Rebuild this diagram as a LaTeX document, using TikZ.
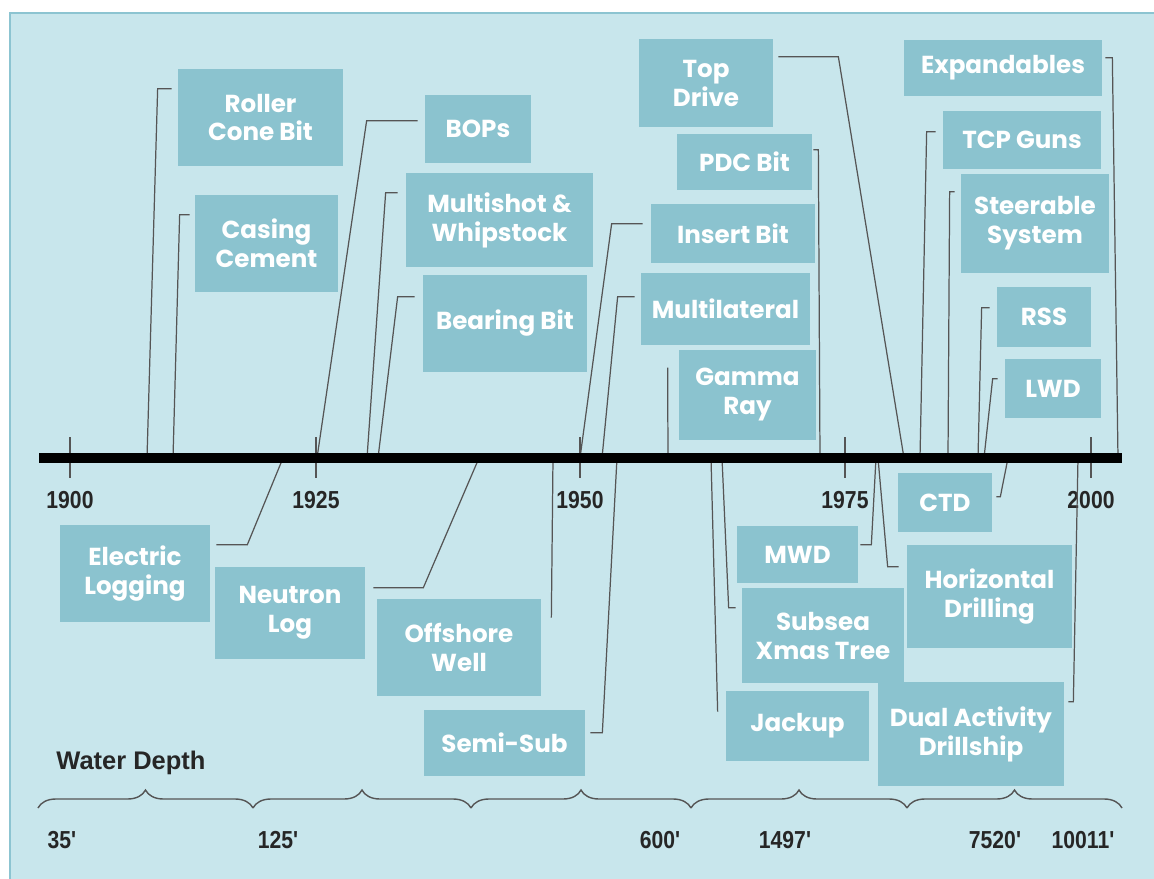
\documentclass[tikz,border=0pt]{standalone}
\usepackage{fontspec}
\setmainfont{Liberation Sans}
\newfontfamily\boxfont{Poppins}
\newfontfamily\narrowfont{Liberation Sans}[FakeStretch=0.86]
\usetikzlibrary{calc,decorations.pathreplacing}

\definecolor{bgblue}{HTML}{C8E6EC}
\definecolor{boxblue}{HTML}{8BC3CF}
\definecolor{edgeblue}{HTML}{8CC4D1}
\definecolor{linegray}{HTML}{555555}

\begin{document}
\begin{tikzpicture}[x=0.02cm, y=-0.02cm,
    evt/.style={fill=boxblue, text=white, inner sep=0pt, align=center,
        font=\boxfont\bfseries\fontsize{14}{16.5}\selectfont},
    sz/.style 2 args={minimum width=#1*0.02cm, minimum height=#2*0.02cm},
    link/.style={draw=linegray, line width=0.7pt},
    yr/.style={font=\narrowfont\bfseries\fontsize{14}{16}\selectfont, text=black!85},
    brc/.style={draw=linegray, line width=0.8pt, decorate,
        decoration={brace, amplitude=0.36cm}}]
    \useasboundingbox (0,0) rectangle (1154,879);

    % Draw the background panel
    \fill[white] (0,0) rectangle (1154,879);
    \fill[bgblue] (10,13) rectangle (1154,879);
    \draw[edgeblue, line width=1.5pt] (10,879) -- (10,13) -- (1154,13);

    % Year ticks and labels
    \foreach \yr/\x in {1900/70, 1925/316, 1950/580, 1975/845, 2000/1091} {
        \draw[linegray, line width=0.6pt] (\x,437) -- (\x,478);
        \node[yr] (y\yr) at (\x,500) {\yr};
    }

    % Events above the time line
    \node[evt, sz={165}{97}] (roller) at (260.5,117.5) {Roller\\Cone Bit};
    \node[evt, sz={143}{97}] (casing) at (266.5,243.5) {Casing\\Cement};
    \node[evt, sz={106}{68}] (bops) at (478,129) {BOPs};
    \node[evt, sz={187}{94}] (multishot) at (499.5,220) {Multishot \&\\Whipstock};
    \node[evt, sz={164}{97}] (bearing) at (505,323.5) {Bearing Bit};
    \node[evt, sz={134}{88}] (topdrive) at (706,83) {Top\\Drive};
    \node[evt, sz={135}{56}] (pdc) at (744.5,162) {PDC Bit};
    \node[evt, sz={164}{59}] (insert) at (733,233.5) {Insert Bit};
    \node[evt, sz={169}{72}] (multilat) at (725.5,309) {Multilateral};
    \node[evt, sz={137}{90}] (gamma) at (747.5,395) {Gamma\\Ray};
    \node[evt, sz={198}{56}] (expand) at (1003,68) {Expandables};
    \node[evt, sz={158}{58}] (tcp) at (1022,140) {TCP Guns};
    \node[evt, sz={148}{99}] (steer) at (1035,223.5) {Steerable\\System};
    \node[evt, sz={94}{60}] (rss) at (1044,317) {RSS};
    \node[evt, sz={96}{59}] (lwd) at (1053,388.5) {LWD};

    % Events below the time line
    \node[evt, sz={150}{97}] (elec) at (135,573.5) {Electric\\Logging};
    \node[evt, sz={150}{92}] (neutron) at (290,613) {Neutron\\Log};
    \node[evt, sz={164}{97}] (offshore) at (459,647.5) {Offshore\\Well};
    \node[evt, sz={161}{66}] (semisub) at (504.5,743) {Semi-Sub};
    \node[evt, sz={121}{57}] (mwd) at (797.5,554.5) {MWD};
    \node[evt, sz={162}{95}] (subsea) at (823,635.5) {Subsea\\Xmas Tree};
    \node[evt, sz={143}{70}] (jackup) at (797.5,726) {Jackup};
    \node[evt, sz={94}{59}] (ctd) at (945,502.5) {CTD};
    \node[evt, sz={165}{103}] (horiz) at (989.5,596.5) {Horizontal\\Drilling};
    \node[evt, sz={186}{104}] (dual) at (971,734) {Dual Activity\\Drillship};

    % Leader lines from each event to its date
    \foreach \n/\a/\dx/\dy/\h/\tx in {
        roller/north west/-6/20/-14/147, casing/north west/-5/20/-10/173,
        bops/north west/-7/26/-51/317, multishot/north west/-8/20/-12/367,
        bearing/north west/-8/22/-17/378, topdrive/north east/5/18/60/904,
        pdc/north east/1/16/5/820, insert/north west/-8/20/-31/580,
        multilat/north west/-6/24/-17/602, gamma/north west/-11/18/0/668,
        expand/north east/3/18/7/1118, tcp/north west/-7/21/-9/920,
        steer/north west/-6/18/-5/948, rss/north west/-7/21/-8/978,
        lwd/north west/-7/20/-5/984,
        elec/north east/6/20/31/283, neutron/north east/8/21/50/479,
        offshore/north east/10/19/0/553, semisub/north east/5/23/12/617,
        mwd/north east/2/19/11/876, subsea/north west/-6/20/-7/722,
        jackup/north west/-8/21/0/711, ctd/north east/4/24/4/1008,
        horiz/north west/-8/22/-11/878, dual/north east/4/20/5/1078} {
        \coordinate (\n-t) at (\tx,458);
        \draw[link] ($(\n.\a)+(\dx,\dy)$) -- ++(\h,0) -- (\n-t);
    }

    % The time line itself
    \coordinate (tl-start) at (39,458);
    \coordinate (tl-end) at (1122,458);
    \draw[line width=6.2pt] (tl-start) -- (tl-end);

    % Water depth scale
    \node[font=\bfseries\fontsize{14.5}{16}\selectfont, text=black!85] (depth) at (131,763) {Water Depth};
    \foreach \a/\b in {38/253, 253/471, 471/691, 691/907, 907/1122}
        \draw[brc] (\a,808) -- (\b,808);
    \foreach \d/\x in {35/62, 125/278, 600/660, 1497/785, 7520/995, 10011/1083}
        \node[yr] (d\d) at (\x,840) {\d'};
\end{tikzpicture}
\end{document}
